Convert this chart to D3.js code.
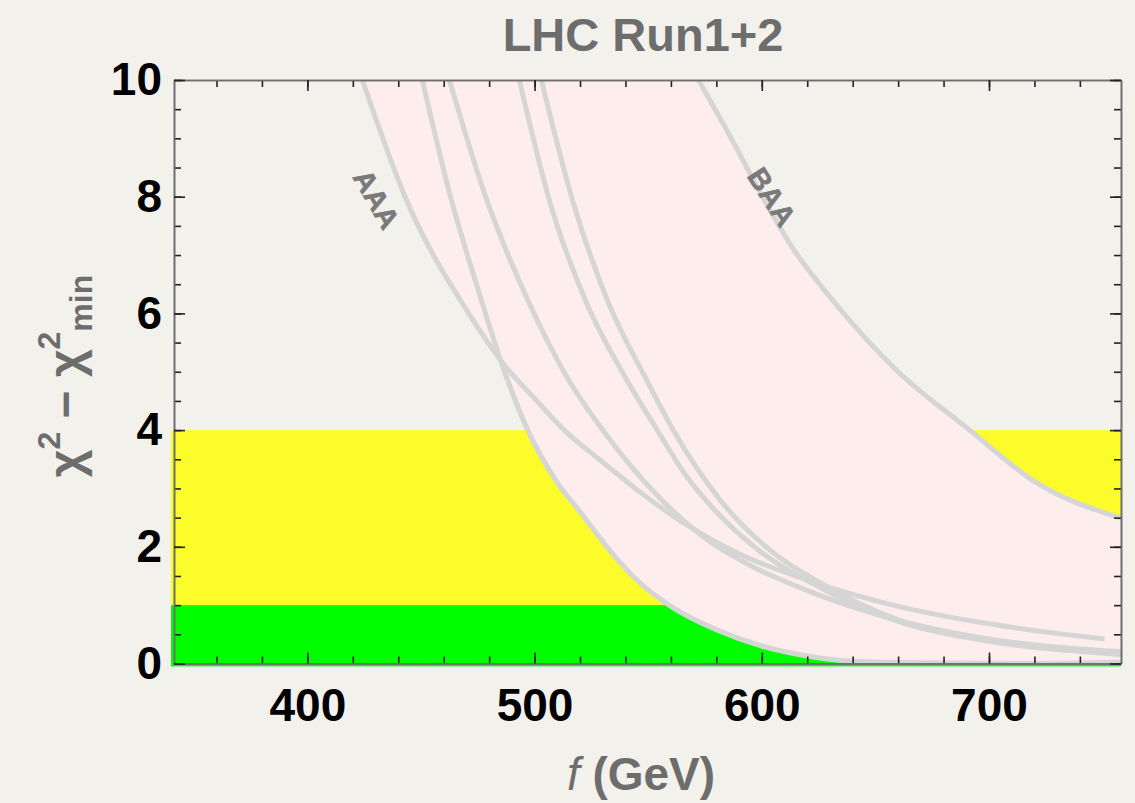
<!DOCTYPE html>
<html>
<head>
<meta charset="utf-8">
<script src="https://cdn.jsdelivr.net/npm/d3@7"></script>
<style>
  body { margin: 0; background: #f3f1ec; }
  svg { display: block; font-family: "Liberation Sans", Arial, Helvetica, sans-serif; }
</style>
</head>
<body>
<div id="graf"></div>
<script>
// values: [f (GeV), chi2 - chi2min]
const curveAAA = [[424.2, 10], [443, 8.0], [471, 6.0], [486, 5.15], [501, 4.5], [513, 4.0],
  [530, 3.45], [546, 2.95], [564, 2.45], [590, 1.88], [620, 1.43], [660, 0.98], [700, 0.68], [750.9, 0.42]]
const curve2 = [[450.6, 10], [463, 8.0], [476, 6.3], [485, 5.2], [497, 4.0], [510, 3.1],
  [520, 2.6], [535, 1.85], [545, 1.43], [560, 0.98], [580, 0.58], [600, 0.3], [620, 0.13],
  [640, 0.04], [680, 0.01], [720, 0.0], [758.1, 0.02]]
const curve3 = [[462.5, 10], [479, 7.94], [497, 6.23], [515, 4.86], [530, 4.0], [556, 2.8],
  [575, 2.15], [598, 1.62], [620, 1.25], [660, 0.74], [700, 0.42], [758.1, 0.2]]
const curve4 = [[493.3, 10], [506.5, 7.94], [522.3, 6.23], [540.6, 4.86], [554, 4.0], [567, 3.2],
  [580, 2.6], [600, 1.9], [620, 1.42], [660, 0.72], [700, 0.38], [758.1, 0.17]]
const curve5 = [[503, 10], [516.7, 7.94], [532, 6.23], [549.3, 4.86], [561, 4.0], [581.7, 2.8],
  [605, 1.9], [625, 1.4], [660, 0.75], [700, 0.4], [758.1, 0.15]]
const curveBAA = [[572.1, 10], [586.7, 8.99], [600.8, 7.96], [613.1, 7.15], [631.1, 6.23],
  [660, 5.0], [691.5, 4.0], [719.2, 3.14], [758.1, 2.49]]

const bands = [{ from: 1, to: 4, color: "#fdfc2b" }, { from: -0.05, to: 1, color: "#00fe00" }]
const xMajor = [400, 500, 600, 700]
const xMinor = d3.range(360, 758, 20)
const yMajor = [0, 2, 4, 6, 8, 10]
const yMinor = d3.range(0, 10.01, 0.5)
const curveLabels = [
  { text: "AAA", f: 430.5, v: 7.96, angle: 60 },
  { text: "BAA", f: 604.5, v: 8.0, angle: 57 },
]

const anchoTotal = 1135
const altoTotal = 803
const xDomain = [341.3, 758.1]

const x = d3.scaleLinear().domain(xDomain).range([174, 1121])
const y = d3.scaleLinear().domain([0, 10]).range([663.5, 80])

const svg = d3.select("#graf")
  .append("svg")
  .attr("width", anchoTotal)
  .attr("height", altoTotal)

svg.append("rect").attr("width", anchoTotal).attr("height", altoTotal).attr("fill", "#f3f1ec")

const defs = svg.append("defs")
defs.append("clipPath").attr("id", "plot")
  .append("rect")
  .attr("x", x(xDomain[0])).attr("y", y(10))
  .attr("width", x(xDomain[1]) - x(xDomain[0]))
  .attr("height", y(0) - y(10))

// pink region ends at the BAA curve
const belowBAA = defs.append("clipPath").attr("id", "belowBAA")
belowBAA.append("rect")
  .attr("x", x(xDomain[0])).attr("y", y(10))
  .attr("width", x(curveBAA[0][0]) - x(xDomain[0]))
  .attr("height", y(0) - y(10))
belowBAA.append("path")
  .attr("d", d3.area()
    .x(d => x(d[0]))
    .y0(y(0))
    .y1(d => y(d[1]))
    .curve(d3.curveMonotoneX)(curveBAA))

// bands
svg.selectAll(".band")
  .data(bands)
  .enter()
  .append("rect")
  .attr("x", x(xDomain[0]) - 3)
  .attr("width", x(xDomain[1]) - x(xDomain[0]) + 3)
  .attr("y", d => y(d.to))
  .attr("height", d => y(d.from) - y(d.to))
  .attr("fill", d => d.color)

const lower = [curveAAA, curve2, curve3, curve4, curve5]

const pink = svg.append("g").attr("clip-path", "url(#plot)")
  .append("g").attr("clip-path", "url(#belowBAA)")
pink.selectAll("path")
  .data(lower)
  .enter()
  .append("path")
  .attr("d", d3.area()
    .x(d => x(d[0]))
    .y0(y(10))
    .y1(d => y(d[1]))
    .curve(d3.curveMonotoneX))
  .attr("fill", "#fdeded")

const line = d3.line()
  .x(d => x(d[0]))
  .y(d => y(d[1]))
  .curve(d3.curveMonotoneX)

svg.append("g").attr("clip-path", "url(#plot)")
  .selectAll("path")
  .data([...lower, curveBAA])
  .enter()
  .append("path")
  .attr("d", line)
  .attr("fill", "none")
  .attr("stroke", "#d5d5d5")
  .attr("stroke-width", 5)

// curve labels
svg.selectAll(".clab")
  .data(curveLabels)
  .enter()
  .append("text")
  .attr("transform", d => `translate(${x(d.f)}, ${y(d.v)}) rotate(${d.angle})`)
  .attr("text-anchor", "middle")
  .attr("dy", "0.36em")
  .attr("font-size", 29)
  .attr("font-weight", "bold")
  .attr("fill", "#7a7a7a")
  .attr("stroke", "#7a7a7a")
  .attr("stroke-width", 0.6)
  .text(d => d.text)

// axes
const styleAxis = (g) => {
  g.select(".domain").attr("stroke", "#6e6e6e").attr("stroke-width", 1.6)
  g.selectAll(".tick line").attr("stroke", "#222").attr("stroke-width", 1.6)
  g.selectAll("text").attr("font-size", 46).attr("font-weight", "bold").attr("fill", "#000")
}

const ax = (axis, tx, ty) => svg.append("g")
  .attr("transform", `translate(${tx}, ${ty})`)
  .call(axis)
  .call(styleAxis)

ax(d3.axisBottom(x).tickValues(xMinor).tickSize(-7).tickSizeOuter(0).tickFormat(""), 0, y(0))
ax(d3.axisTop(x).tickValues(xMinor).tickSize(-7).tickSizeOuter(0).tickFormat(""), 0, y(10))
ax(d3.axisLeft(y).tickValues(yMinor).tickSize(-7).tickSizeOuter(0).tickFormat(""), x(xDomain[0]), 0)
ax(d3.axisRight(y).tickValues(yMinor).tickSize(-7).tickSizeOuter(0).tickFormat(""), x(xDomain[1]), 0)

ax(d3.axisBottom(x).tickValues(xMajor).tickSize(-11).tickSizeOuter(0).tickPadding(25), 0, y(0))
ax(d3.axisTop(x).tickValues(xMajor).tickSize(-11).tickSizeOuter(0).tickFormat(""), 0, y(10))
ax(d3.axisLeft(y).tickValues(yMajor).tickSize(-11).tickSizeOuter(0).tickPadding(12), x(xDomain[0]), 0)
ax(d3.axisRight(y).tickValues(yMajor).tickSize(-11).tickSizeOuter(0).tickFormat(""), x(xDomain[1]), 0)

// titles
svg.append("text")
  .attr("x", 643).attr("y", 51)
  .attr("text-anchor", "middle")
  .attr("font-size", 47).attr("font-weight", "bold").attr("fill", "#6d6d6d")
  .text("LHC Run1+2")

const xl = svg.append("text")
  .attr("x", 641).attr("y", 790)
  .attr("text-anchor", "middle")
  .attr("font-size", 46).attr("font-weight", "bold").attr("fill", "#6d6d6d")
xl.append("tspan").attr("font-style", "italic").attr("font-weight", "normal").text("f")
xl.append("tspan").text(" (GeV)")

const yl = svg.append("text")
  .attr("transform", "translate(82, 376) rotate(-90)")
  .attr("text-anchor", "middle")
  .attr("font-size", 48).attr("font-weight", "bold").attr("fill", "#6d6d6d")
yl.append("tspan").text("χ")
yl.append("tspan").attr("font-size", 32).attr("dy", -22).text("2")
yl.append("tspan").attr("dy", 22).text(" − χ")
yl.append("tspan").attr("font-size", 32).attr("dy", -22).text("2")
yl.append("tspan").attr("font-size", 32).attr("dy", 32).text("min")
</script>
</body>
</html>
